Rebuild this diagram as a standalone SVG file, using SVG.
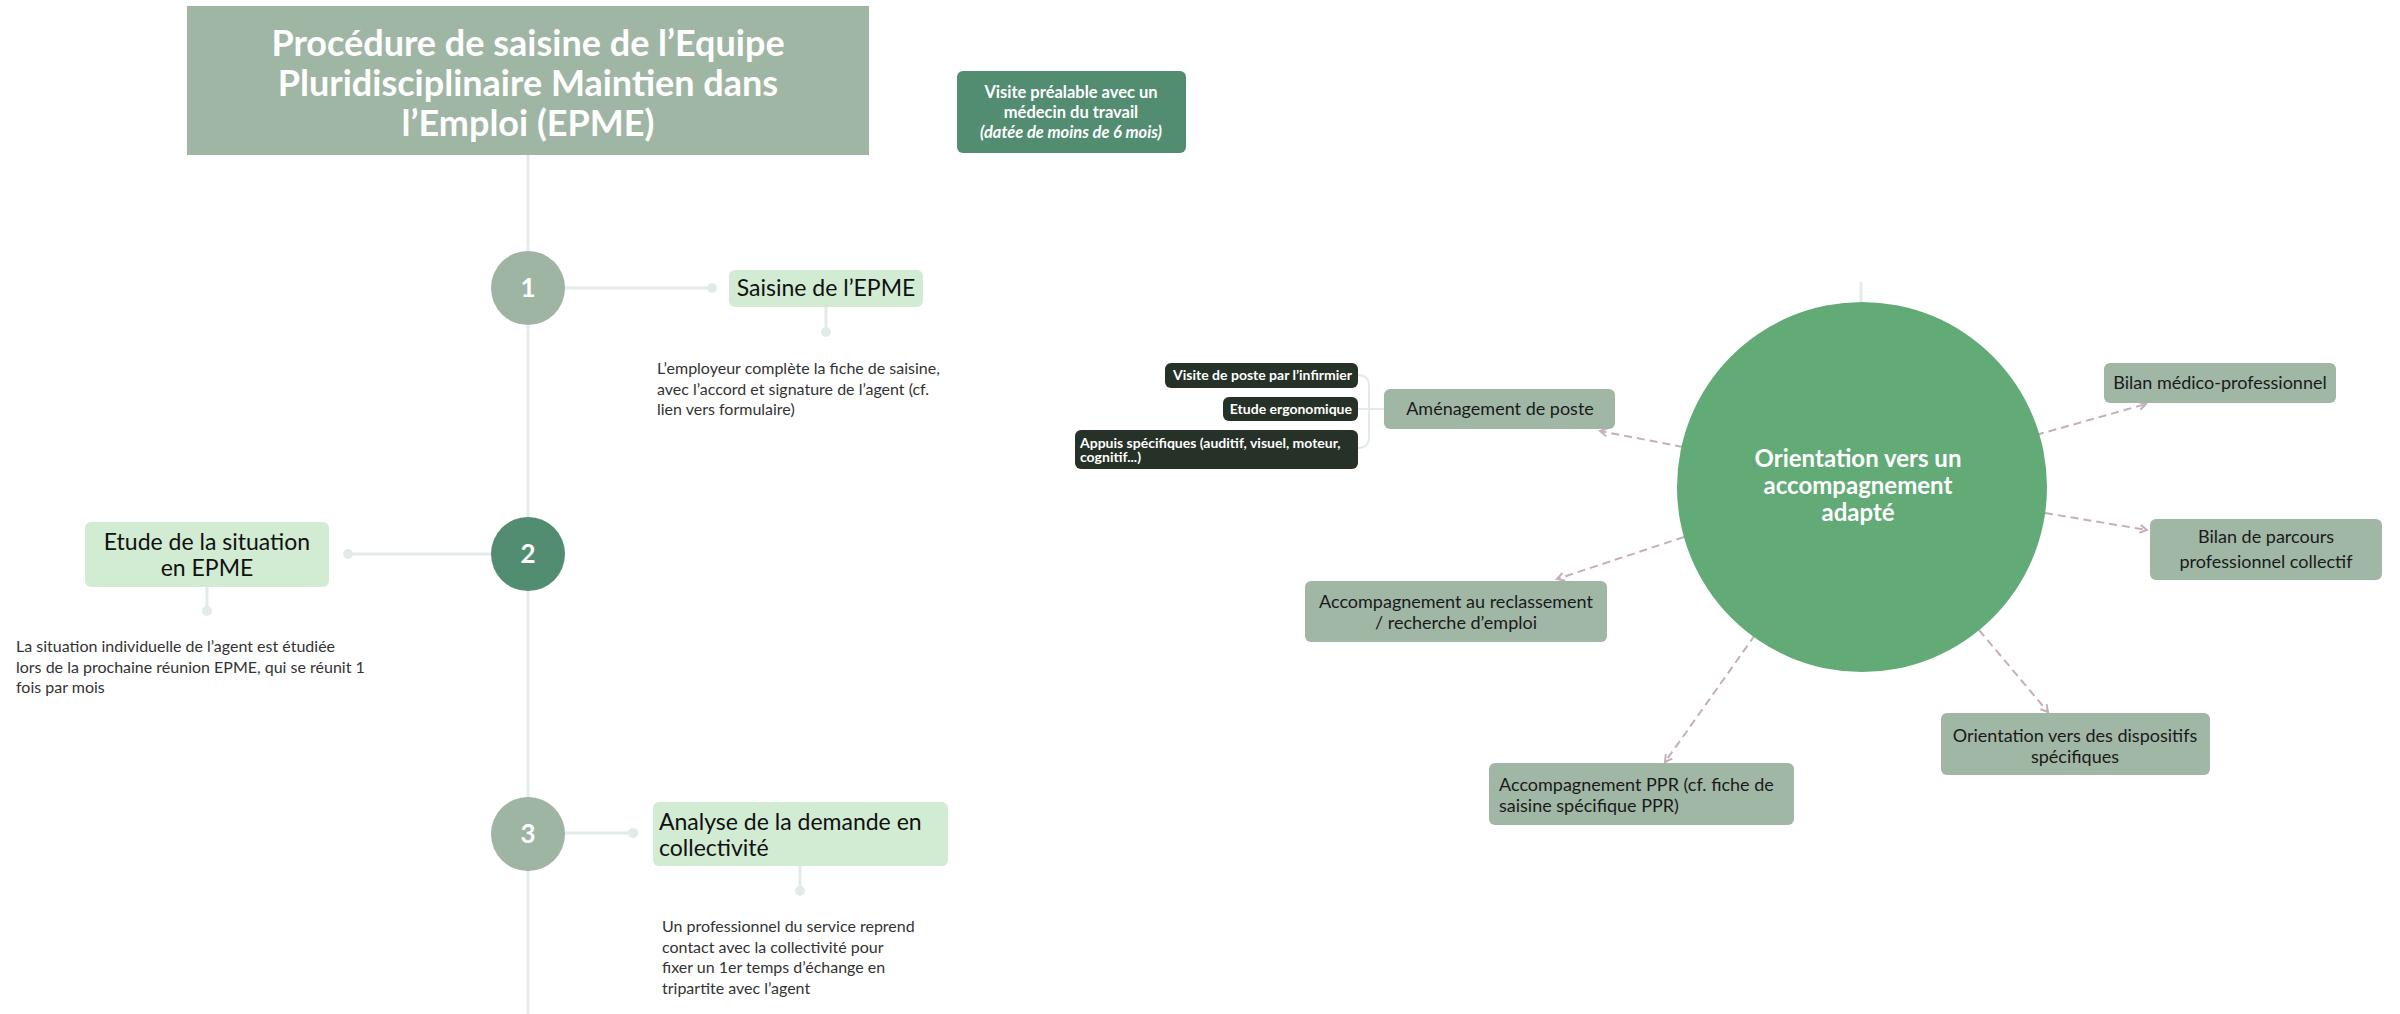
<svg xmlns="http://www.w3.org/2000/svg" width="2400" height="1014" viewBox="0 0 2400 1014">
<style>
text{font-family:Lato,"Noto Sans",sans-serif}
.line{stroke:#E3EBE7;stroke-width:3;fill:none}
.dot{fill:#E3EBE7}
.title{fill:#fff;font-weight:700;font-size:36px;text-anchor:middle}
.num{fill:#fff;font-weight:700;font-size:26px;text-anchor:middle}
.step{fill:#D1ECD2}
.stept{fill:#111;font-size:23px}
.para{fill:#333;font-size:16px}
.gbox{fill:#A0B7A5}
.gt{fill:#1a1a1a;font-size:18px}
.dbox{fill:#263128}
.dt{fill:#fff;font-size:14px;font-weight:700}
.arr{stroke:#C4AFBA;stroke-width:2;stroke-dasharray:8 5;fill:none;marker-end:url(#ah)}
.mid{text-anchor:middle}
</style>
<defs>
<marker id="ah" markerWidth="10" markerHeight="10" refX="8" refY="5" orient="auto" markerUnits="userSpaceOnUse">
<path d="M1,1 L8,5 L1,9" fill="none" stroke="#C4AFBA" stroke-width="2"/>
</marker>
</defs>
<rect width="2400" height="1014" fill="#fff"/>

<g id="connectors">
<line class="line" x1="528" y1="155" x2="528" y2="1014"/>
<line class="line" x1="565" y1="288" x2="712" y2="288"/>
<circle class="dot" cx="712" cy="288" r="5"/>
<line class="line" x1="826" y1="307" x2="826" y2="332"/>
<circle class="dot" cx="826" cy="332" r="5"/>
<line class="line" x1="491" y1="554" x2="348" y2="554"/>
<circle class="dot" cx="348" cy="554" r="5"/>
<line class="line" x1="207" y1="587" x2="207" y2="611"/>
<circle class="dot" cx="207" cy="611" r="5"/>
<line class="line" x1="565" y1="833" x2="633" y2="833"/>
<circle class="dot" cx="633" cy="833" r="5"/>
<line class="line" x1="800" y1="866" x2="800" y2="891"/>
<circle class="dot" cx="800" cy="891" r="5"/>
<line class="line" x1="1861" y1="282" x2="1861" y2="303"/>
<path d="M1358,375 Q1369,375 1369,386 L1369,437 Q1369,448 1358,448 M1358,409 L1384,409" stroke="#E3EBE7" stroke-width="2" fill="none"/>
<line class="arr" x1="1683" y1="447" x2="1600" y2="431"/>
<line class="arr" x1="2036" y1="435" x2="2146" y2="404"/>
<line class="arr" x1="2045" y1="513" x2="2147" y2="530"/>
<line class="arr" x1="1979" y1="630" x2="2048" y2="712"/>
<line class="arr" x1="1755" y1="635" x2="1665" y2="762"/>
<line class="arr" x1="1684" y1="537" x2="1557" y2="579"/>
</g>

<g id="title">
<rect x="187" y="6" width="682" height="149" fill="#A0B6A4"/>
<text class="title" x="528" y="56">Procédure de saisine de l’Equipe</text>
<text class="title" x="528" y="96">Pluridisciplinaire Maintien dans</text>
<text class="title" x="528" y="136">l’Emploi (EPME)</text>
</g>

<g id="visite">
<rect x="957" y="71" width="229" height="82" rx="6" fill="#528D72"/>
<text x="1071" y="98" fill="#fff" font-size="16.5" font-weight="700" class="mid">Visite préalable avec un</text>
<text x="1071" y="118" fill="#fff" font-size="16.5" font-weight="700" class="mid">médecin du travail</text>
<text x="1071" y="138" fill="#fff" font-size="16.5" font-weight="700" font-style="italic" class="mid">(datée de moins de 6 mois)</text>
</g>

<g id="step1">
<circle cx="528" cy="288" r="37" fill="#9DB5A2"/>
<text class="num" x="528" y="297">1</text>
</g>
<g id="saisine">
<rect class="step" x="729" y="270" width="194" height="37" rx="6"/>
<text class="stept mid" x="826" y="296">Saisine de l’EPME</text>
</g>
<g id="saisine-text">
<text class="para" x="657" y="374">L’employeur complète la fiche de saisine,</text>
<text class="para" x="657" y="395">avec l’accord et signature de l’agent (cf.</text>
<text class="para" x="657" y="415">lien vers formulaire)</text>
</g>

<g id="step2">
<circle cx="528" cy="554" r="37" fill="#528D72"/>
<text class="num" x="528" y="563">2</text>
</g>
<g id="etude">
<rect class="step" x="85" y="522" width="244" height="65" rx="6"/>
<text class="stept mid" x="207" y="550" font-size="23.5">Etude de la situation</text>
<text class="stept mid" x="207" y="576" font-size="23.5">en EPME</text>
</g>
<g id="etude-text">
<text class="para" x="16" y="652">La situation individuelle de l’agent est étudiée</text>
<text class="para" x="16" y="673">lors de la prochaine réunion EPME, qui se réunit 1</text>
<text class="para" x="16" y="693">fois par mois</text>
</g>

<g id="step3">
<circle cx="528" cy="834" r="37" fill="#9DB5A2"/>
<text class="num" x="528" y="843">3</text>
</g>
<g id="analyse">
<rect class="step" x="653" y="802" width="295" height="64" rx="6"/>
<text class="stept" x="659" y="830">Analyse de la demande en</text>
<text class="stept" x="659" y="856">collectivité</text>
</g>
<g id="analyse-text">
<text class="para" x="662" y="932">Un professionnel du service reprend</text>
<text class="para" x="662" y="953">contact avec la collectivité pour</text>
<text class="para" x="662" y="973">fixer un 1er temps d’échange en</text>
<text class="para" x="662" y="994">tripartite avec l’agent</text>
</g>

<g id="orientation">
<circle cx="1862" cy="487" r="185" fill="#62AB77"/>
<text x="1858" y="467" fill="#fff" font-size="24" font-weight="700" class="mid">Orientation vers un</text>
<text x="1858" y="494" fill="#fff" font-size="24" font-weight="700" class="mid">accompagnement</text>
<text x="1858" y="521" fill="#fff" font-size="24" font-weight="700" class="mid">adapté</text>
</g>

<g id="amenagement">
<rect class="gbox" x="1384" y="389" width="231" height="40" rx="6"/>
<text class="gt mid" x="1500" y="415">Aménagement de poste</text>
</g>
<g id="visite-poste">
<rect class="dbox" x="1165" y="363" width="193" height="25" rx="6"/>
<text class="dt" x="1352" y="380" text-anchor="end">Visite de poste par l’infirmier</text>
</g>
<g id="etude-ergo">
<rect class="dbox" x="1223" y="397" width="135" height="24" rx="6"/>
<text class="dt" x="1352" y="414" text-anchor="end">Etude ergonomique</text>
</g>
<g id="appuis">
<rect class="dbox" x="1075" y="430" width="283" height="39" rx="6"/>
<text class="dt" x="1080" y="448" font-size="14.6">Appuis spécifiques (auditif, visuel, moteur,</text>
<text class="dt" x="1080" y="462" font-size="14.6">cognitif...)</text>
</g>

<g id="bilan-medico">
<rect class="gbox" x="2104" y="363" width="232" height="40" rx="6"/>
<text class="gt mid" x="2220" y="389">Bilan médico-professionnel</text>
</g>
<g id="bilan-parcours">
<rect class="gbox" x="2150" y="519" width="232" height="61" rx="6"/>
<text class="gt mid" x="2266" y="543">Bilan de parcours</text>
<text class="gt mid" x="2266" y="568">professionnel collectif</text>
</g>
<g id="dispositifs">
<rect class="gbox" x="1941" y="713" width="269" height="62" rx="6"/>
<text class="gt mid" x="2075" y="742">Orientation vers des dispositifs</text>
<text class="gt mid" x="2075" y="763">spécifiques</text>
</g>
<g id="ppr">
<rect class="gbox" x="1489" y="763" width="305" height="62" rx="6"/>
<text class="gt" x="1499" y="791">Accompagnement PPR (cf. fiche de</text>
<text class="gt" x="1499" y="812">saisine spécifique PPR)</text>
</g>
<g id="reclassement">
<rect class="gbox" x="1305" y="581" width="302" height="61" rx="6"/>
<text class="gt mid" x="1456" y="608">Accompagnement au reclassement</text>
<text class="gt mid" x="1456" y="629">/ recherche d’emploi</text>
</g>
</svg>
